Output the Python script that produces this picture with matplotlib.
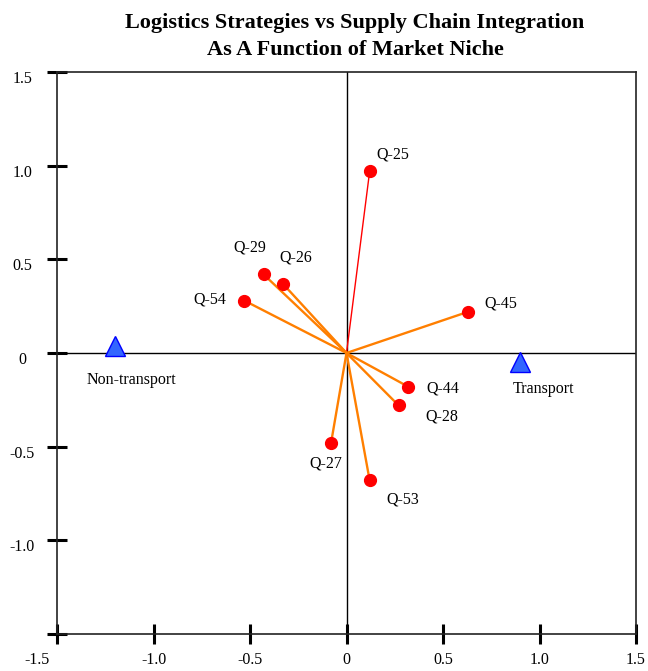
import matplotlib
matplotlib.use("Agg")
import matplotlib.pyplot as plt
import matplotlib.transforms as mtransforms

plt.rcParams['font.family'] = ['Liberation Serif', 'DejaVu Serif']

# loadings of the survey questions
questions = ['Q-25', 'Q-29', 'Q-26', 'Q-54', 'Q-45', 'Q-44', 'Q-28', 'Q-27', 'Q-53']
qx = [0.12, -0.43, -0.33, -0.53, 0.63, 0.32, 0.27, -0.08, 0.12]
qy = [0.97, 0.42, 0.37, 0.28, 0.22, -0.18, -0.28, -0.48, -0.68]
line_colors = ['#ff0000'] + ['#ff7f00'] * 8
line_widths = [1.0] + [1.7] * 8

# group centroids
groups = ['Non-transport', 'Transport']
gx = [-1.20, 0.90]
gy = [0.04, -0.05]

# label offsets in points and alignment
q_off = [(5, 12), (-10, 19), (9, 19), (-13, 1), (12, 6), (13, -1), (19, -8), (-4, -15), (12, -14)]
q_ha = ['left', 'center', 'center', 'right', 'left', 'left', 'left', 'center', 'left']
g_off = [(12, -25), (17, -19)]

ticks = [-1.5, -1.0, -0.5, 0, 0.5, 1.0, 1.5]
tick_labels = ['-1.5', '-1.0', '-0.5', '0', '0.5', '1.0', '1.5']

title_lines = ['Logistics Strategies vs Supply Chain Integration',
               'As A Function of Market Niche']

fig = plt.figure(figsize=(6.48, 6.71), dpi=100)
ax = fig.add_axes([57 / 648, 1 - 634 / 671, 579 / 648, 562 / 671])
ax.set_xlim(-1.5, 1.5)
ax.set_ylim(-1.5, 1.5)

ax.axhline(0, color='black', lw=1, zorder=1)
ax.axvline(0, color='black', lw=1, zorder=1)

for x, y, c, w in zip(qx, qy, line_colors, line_widths):
    ax.plot([0, x], [0, y], color=c, lw=w, zorder=2)
ax.plot(qx, qy, 'o', color='#ff0000', ms=8.5, zorder=3)
for name, x, y, off, ha in zip(questions, qx, qy, q_off, q_ha):
    ax.annotate(name, (x, y), xytext=off, textcoords='offset points',
                ha=ha, va='center', fontsize=11.5)

ax.plot(gx, gy, '^', ms=14, mfc='#3366ff', mec='#0000ff', mew=1, zorder=3)
for name, x, y, off in zip(groups, gx, gy, g_off):
    ax.annotate(name, (x, y), xytext=off, textcoords='offset points',
                ha='center', va='center', fontsize=11.5)

for s in ax.spines.values():
    s.set_linewidth(1.2)
    s.set_color('#222222')

ax.set_xticks(ticks)
ax.set_xticklabels(tick_labels)
ax.set_yticks(ticks)
ax.set_yticklabels(['' if t == '-1.5' else t for t in tick_labels])
ax.tick_params(direction='inout', length=14, width=2.2, color='black', labelsize=11.5)
ax.tick_params(axis='x', pad=6)
ax.tick_params(axis='y', pad=18)
for lab in ax.get_yticklabels():
    lab.set_ha('center')
    lab.set_transform(lab.get_transform() +
                      mtransforms.ScaledTranslation(0, -5 / 100, fig.dpi_scale_trans))
first = ax.get_xticklabels()[0]
first.set_transform(first.get_transform() +
                    mtransforms.ScaledTranslation(-20 / 100, 0, fig.dpi_scale_trans))

# two-line bold title
for line, base in zip(title_lines, [28, 55]):
    fig.text(355 / 648, 1 - base / 671, line, ha='center', va='baseline',
             fontsize=16, fontweight='bold')

fig.savefig('out.png', dpi=100)
